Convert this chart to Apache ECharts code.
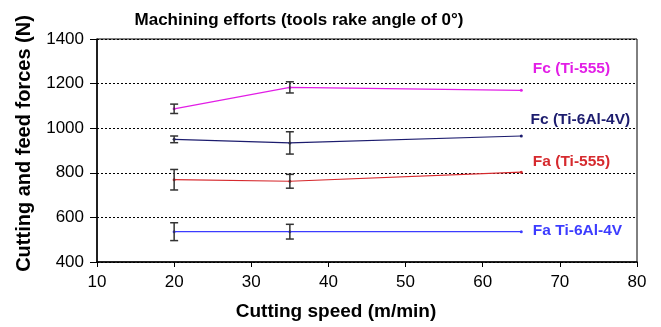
<!DOCTYPE html>
<html>
<head>
<meta charset="utf-8">
<script src="https://cdn.jsdelivr.net/npm/echarts@6/dist/echarts.min.js"></script>
<style>
  html, body { margin: 0; padding: 0; background: #fff; }
  #chart { width: 661px; height: 327px; }
</style>
</head>
<body>
<div id="chart"></div>
<script>
// cutting speeds (m/min)
var speeds = [20, 35, 65];

// mean forces (N)
var fcTi555 = [1087, 1183, 1170];
var fcTi64 = [950, 934, 965];
var faTi555 = [769, 762, 803];
var faTi64 = [536, 536, 536];

// error half-widths (N), last point has none
var fcTi555Err = [21, 25, 0];
var fcTi64Err = [15, 50, 0];
var faTi555Err = [46, 31, 0];
var faTi64Err = [40, 33, 0];

var seriesNames = ['Fc (Ti-555)', 'Fc (Ti-6Al-4V)', 'Fa (Ti-555)', 'Fa Ti-6Al-4V'];
var seriesColors = ['#e21ee6', '#1c1c6e', '#d62a2e', '#3c3cff'];
// label anchor positions (speed, force)
var labelPos = [[66.5, 1265], [66.2, 1037], [66.5, 848], [66.5, 539]];

var allValues = [fcTi555, fcTi64, faTi555, faTi64];
var allErrors = [fcTi555Err, fcTi64Err, faTi555Err, faTi64Err];

var font = 'Liberation Sans, Arial, sans-serif';

var chart = echarts.init(document.getElementById('chart'));

var series = [];
allValues.forEach(function (vals, k) {
  series.push({
    name: seriesNames[k],
    type: 'line',
    data: speeds.map(function (s, i) { return [s, vals[i]]; }),
    symbol: 'circle',
    symbolSize: 3,
    z: 3,
    lineStyle: { color: seriesColors[k], width: 1.2 },
    itemStyle: { color: seriesColors[k] },
    markPoint: {
      symbol: 'rect',
      symbolSize: 0,
      data: [{ coord: labelPos[k] }],
      label: {
        show: true,
        position: 'right',
        distance: 0,
        formatter: seriesNames[k],
        color: seriesColors[k],
        fontFamily: font,
        fontWeight: 'bold',
        fontSize: 15.5
      }
    }
  });
});

// error bars
var errData = [];
allValues.forEach(function (vals, k) {
  speeds.forEach(function (s, i) {
    var e = allErrors[k][i];
    if (e > 0) errData.push([s, vals[i] - e, vals[i] + e]);
  });
});
series.push({
  type: 'custom',
  z: 4,
  data: errData,
  renderItem: function (params, api) {
    var lo = api.coord([api.value(0), api.value(1)]);
    var hi = api.coord([api.value(0), api.value(2)]);
    var w = 4;
    var st = { stroke: '#333', lineWidth: 1.5 };
    return {
      type: 'group',
      children: [
        { type: 'line', shape: { x1: lo[0], y1: lo[1], x2: hi[0], y2: hi[1] }, style: st },
        { type: 'line', shape: { x1: lo[0] - w, y1: lo[1], x2: lo[0] + w, y2: lo[1] }, style: st },
        { type: 'line', shape: { x1: hi[0] - w, y1: hi[1], x2: hi[0] + w, y2: hi[1] }, style: st }
      ]
    };
  }
});

chart.setOption({
  animation: false,
  title: {
    text: 'Machining efforts (tools rake angle of 0°)',
    left: 294,
    textAlign: 'center',
    top: 7,
    textStyle: { fontFamily: font, fontSize: 17, fontWeight: 'bold', color: '#000' }
  },
  grid: { left: 97, right: 24, top: 39, bottom: 65, show: true, borderColor: '#000', borderWidth: 1 },
  xAxis: {
    type: 'value',
    min: 10,
    max: 80,
    interval: 10,
    name: 'Cutting speed (m/min)',
    nameLocation: 'middle',
    nameGap: 40,
    nameTextStyle: { fontFamily: font, fontSize: 19, fontWeight: 'bold', color: '#000', padding: [0, 62, 0, 0] },
    axisLine: { lineStyle: { color: '#000', width: 1.5 } },
    axisTick: { show: true, length: 5, lineStyle: { color: '#000' } },
    axisLabel: { fontFamily: font, fontSize: 17, color: '#000', margin: 12 },
    splitLine: { show: false }
  },
  yAxis: {
    type: 'value',
    min: 400,
    max: 1400,
    interval: 200,
    name: 'Cutting and feed forces (N)',
    nameLocation: 'middle',
    nameGap: 63,
    nameTextStyle: { fontFamily: font, fontSize: 20, fontWeight: 'bold', color: '#000', padding: [0, 0, 0, 14] },
    axisLine: { show: true, lineStyle: { color: '#000', width: 1.5 } },
    axisTick: { show: true, length: 7, lineStyle: { color: '#000' } },
    axisLabel: {
      fontFamily: font, fontSize: 17, color: '#000', margin: 13,
      formatter: function (v) { return String(v); }
    },
    splitLine: { show: true, lineStyle: { color: '#000', type: [2, 2], width: 1 } }
  },
  series: series
});
</script>
</body>
</html>
